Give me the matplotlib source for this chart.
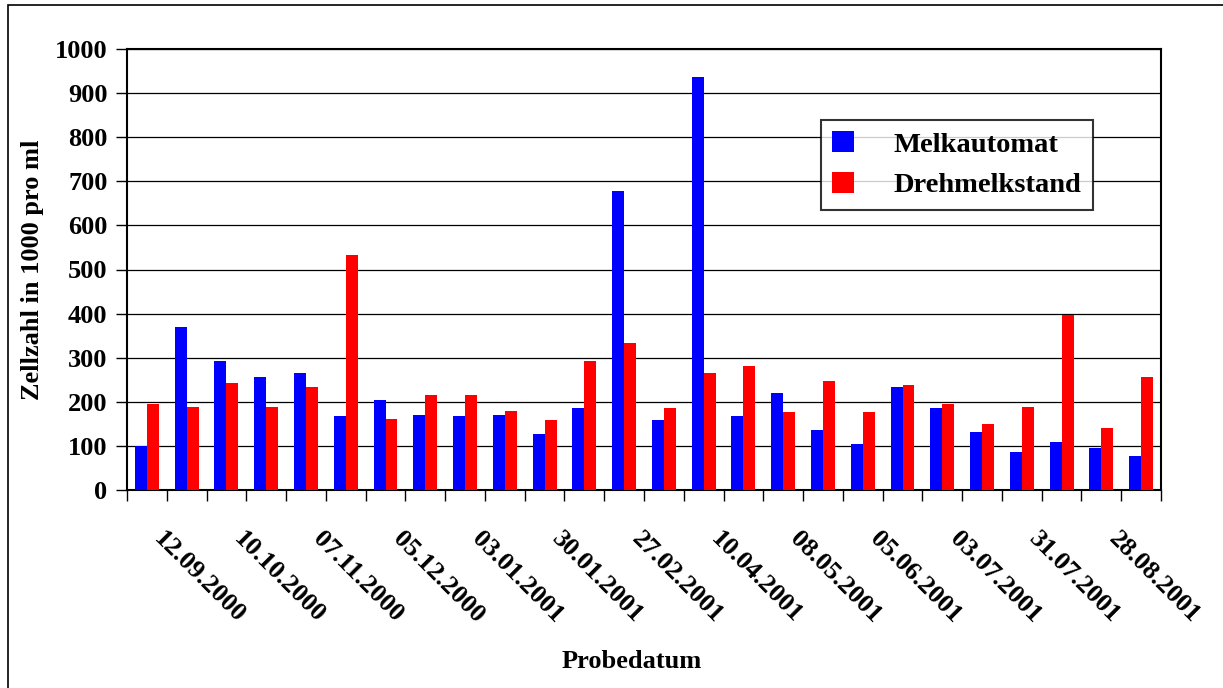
import matplotlib.pyplot as plt
import matplotlib.transforms as mtransforms
from matplotlib.patches import Rectangle
import numpy as np

dates = ["12.09.2000", "26.09.2000", "10.10.2000", "24.10.2000", "07.11.2000",
         "21.11.2000", "05.12.2000", "19.12.2000", "03.01.2001", "17.01.2001",
         "30.01.2001", "13.02.2001", "27.02.2001", "13.03.2001", "10.04.2001",
         "24.04.2001", "08.05.2001", "22.05.2001", "05.06.2001", "19.06.2001",
         "03.07.2001", "17.07.2001", "31.07.2001", "14.08.2001", "28.08.2001",
         "11.09.2001"]
melkautomat = [100, 370, 293, 256, 265, 168, 204, 170, 168, 170, 127, 186, 678,
               159, 937, 168, 220, 136, 104, 234, 186, 132, 86, 109, 95, 77]
drehmelkstand = [195, 188, 243, 188, 234, 533, 161, 216, 216, 179, 159, 293, 334,
                 186, 265, 281, 177, 247, 177, 238, 195, 150, 188, 397, 141, 256]

plt.rcParams['font.family'] = ['Liberation Serif', 'DejaVu Serif']
plt.rcParams['font.weight'] = 'bold'

fig = plt.figure(figsize=(12.23, 6.88), dpi=100)
ax = fig.add_axes([127/1223, 1 - 490/688, (1161 - 127)/1223, (490 - 49)/688])

x = np.arange(len(dates))
w = 0.3
ax.bar(x - w/2, melkautomat, w, color='#0000ff', label='Melkautomat', zorder=3)
ax.bar(x + w/2, drehmelkstand, w, color='#ff0000', label='Drehmelkstand', zorder=3)

ax.set_xlim(-0.5, len(dates) - 0.5)
ax.set_ylim(0, 1000)
ax.set_yticks(np.arange(0, 1001, 100))
ax.yaxis.grid(True, color='black', linewidth=0.9, zorder=0)
ax.tick_params(axis='y', direction='out', length=8, width=1, labelsize=19, pad=6)

ax.set_xticks(x[::2])
ax.set_xticklabels(dates[::2], rotation=-45, ha='left', va='top',
                   rotation_mode='anchor', fontsize=19)
ax.set_xticks(np.arange(-0.5, len(dates), 1), minor=True)
ax.tick_params(axis='x', which='major', length=0, pad=27)
ax.tick_params(axis='x', which='minor', direction='out', length=8, width=1)
shift = mtransforms.ScaledTranslation(19/100, 0, fig.dpi_scale_trans)
for lab in ax.get_xticklabels():
    lab.set_transform(lab.get_transform() + shift)

for s in ax.spines.values():
    s.set_linewidth(1.5)
    s.set_color('black')

fig.text(33/1223, 1 - 270/688, "Zellzahl in 1000 pro ml", rotation=90,
         ha='center', va='center', fontsize=19, fontweight='bold')
fig.text(632/1223, 1 - 662/688, "Probedatum", ha='center', va='center',
         fontsize=19, fontweight='bold')

leg = ax.legend(loc='upper left', bbox_to_anchor=(821/1223, 1 - 120/688),
                bbox_transform=fig.transFigure, fontsize=20.5, frameon=True,
                fancybox=False, handlelength=0.75, handleheight=0.75,
                handletextpad=1.4, labelspacing=0.5, borderpad=0.4,
                borderaxespad=0)
leg.get_frame().set_edgecolor('black')
leg.get_frame().set_linewidth(1.5)
leg.set_zorder(5)

fig.patches.append(Rectangle((8/1223, -0.01), 1.0, 1 - 5/688 + 0.01,
                             transform=fig.transFigure, fill=False,
                             edgecolor='black', linewidth=1.2))

fig.savefig("out.png", dpi=100)
